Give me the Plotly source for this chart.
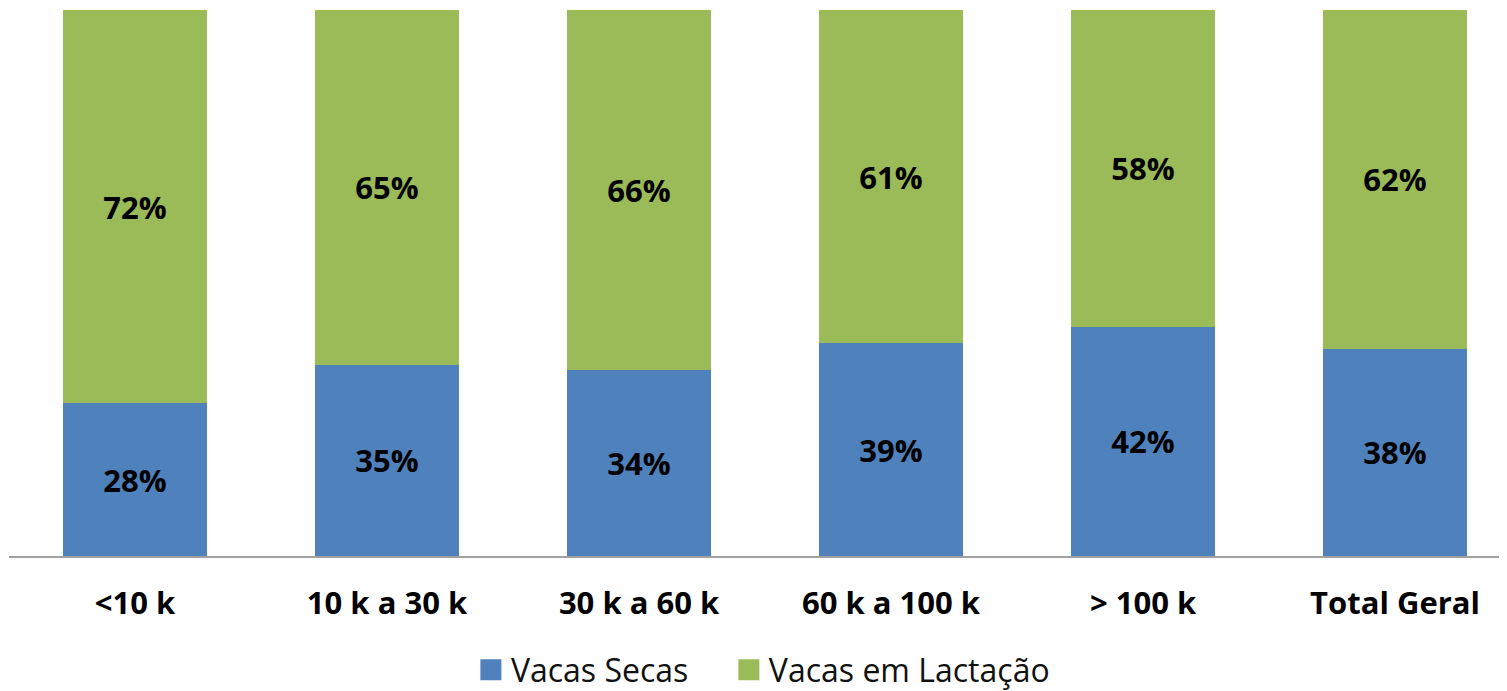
import plotly.graph_objects as go

categories = ["<10 k", "10 k a 30 k", "30 k a 60 k", "60 k a 100 k", "> 100 k", "Total Geral"]
secas = [28, 35, 34, 39, 42, 38]
lactacao = [72, 65, 66, 61, 58, 62]

FONT = "Open Sans"
BLUE = "#4F81BD"
GREEN = "#9BBB59"
xs = list(range(len(categories)))

fig = go.Figure()
fig.add_trace(go.Bar(
    x=xs, y=secas, name="Vacas Secas", showlegend=False,
    marker=dict(color=BLUE, line=dict(width=0)),
    text=[f"{v}%" for v in secas], textposition="inside", insidetextanchor="middle",
    textfont=dict(family=FONT, size=31, color="black", weight="bold"),
    width=0.571,
))
fig.add_trace(go.Bar(
    x=xs, y=lactacao, name="Vacas em Lactação", showlegend=False,
    marker=dict(color=GREEN, line=dict(width=0)),
    text=[f"{v}%" for v in lactacao], textposition="inside", insidetextanchor="middle",
    textfont=dict(family=FONT, size=31, color="black", weight="bold"),
    width=0.571,
))
# legend entries with larger square swatches, each in its own legend box
for name, col, lg in [("Vacas Secas", BLUE, "legend"), ("Vacas em Lactação", GREEN, "legend2")]:
    fig.add_trace(go.Scatter(x=[None], y=[None], mode="markers", name=name, legend=lg,
                             marker=dict(symbol="square", size=16, color=col,
                                         line=dict(color=col, width=5))))

leg_common = dict(orientation="h", xanchor="left", y=-0.2088, yanchor="middle",
                  font=dict(family=FONT, size=32, color="#111111"), itemwidth=30,
                  itemsizing="trace", bgcolor="rgba(0,0,0,0)")
fig.update_layout(
    barmode="stack",
    width=1507, height=691,
    margin=dict(l=1, r=0, t=2, b=143, autoexpand=False),
    plot_bgcolor="white", paper_bgcolor="white",
    showlegend=True,
    legend=dict(x=0.3067, **leg_common),
    legend2=dict(x=0.478, **leg_common),
    uniformtext=dict(mode=False),
)
fig.update_xaxes(
    tickmode="array", tickvals=xs, ticktext=categories,
    range=[-0.5, 5.476], showline=True, linecolor="#A0A0A0", linewidth=2,
    showgrid=False, zeroline=False, ticks="", ticklabelstandoff=19,
    tickfont=dict(family=FONT, size=31, color="black", weight="bold"),
)
fig.update_yaxes(range=[0, 100], showgrid=False, zeroline=False, showticklabels=False, showline=False)
fig.write_html("out.html")
